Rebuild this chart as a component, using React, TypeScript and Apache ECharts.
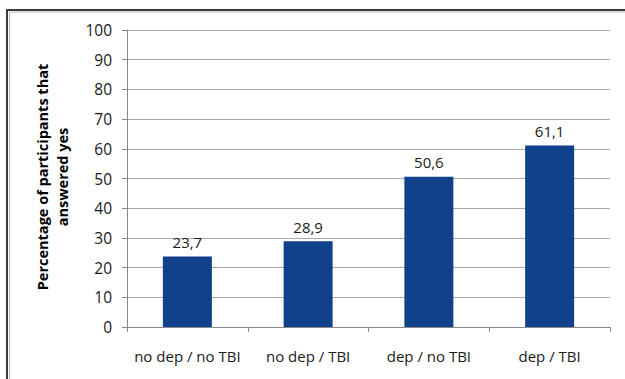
import React, { useEffect, useRef } from "react";
import * as echarts from "echarts";

const categories = ["no dep / no TBI", "no dep / TBI", "dep / no TBI", "dep / TBI"];
const percentYes = [23.7, 28.9, 50.6, 61.1];
const yAxisTitle = "Percentage of participants that\nanswered yes";

const FONT = "'Open Sans', 'Noto Sans', sans-serif";

export default function App() {
  const ref = useRef<HTMLDivElement>(null);

  useEffect(() => {
    if (!ref.current) return;
    const chart = echarts.init(ref.current, null, { renderer: "svg" });
    chart.setOption({
      animation: false,
      backgroundColor: "#ffffff",
      grid: { left: 127, right: 15, top: 30, bottom: 52, containLabel: false },
      graphic: [
        {
          type: "polyline",
          shape: { points: [[7, 379], [7, 10], [625, 10]] },
          style: { stroke: "#3a3a3a", lineWidth: 2, fill: "none" },
          silent: true,
        },
        {
          type: "polyline",
          shape: { points: [[9.5, 379], [9.5, 12], [625, 12]] },
          style: { stroke: "#b8b8b8", lineWidth: 1, fill: "none" },
          silent: true,
        },
        {
          type: "text",
          x: 52,
          y: 177,
          rotation: Math.PI / 2,
          style: {
            text: yAxisTitle,
            font: `bold 14.5px ${FONT}`,
            fill: "#000000",
            align: "center",
            verticalAlign: "middle",
            lineHeight: 20,
          },
          silent: true,
        },
      ],
      xAxis: {
        type: "category",
        data: categories,
        boundaryGap: true,
        axisLine: { show: true, lineStyle: { color: "#8a8a8a", width: 1 } },
        axisTick: { show: true, length: 5, alignWithLabel: false, interval: 0, lineStyle: { color: "#8a8a8a" } },
        axisLabel: { interval: 0, color: "#1a1a1a", fontFamily: FONT, fontSize: 15, margin: 21 },
      },
      yAxis: {
        type: "value",
        min: 0,
        max: 100,
        interval: 10,
        axisLine: { show: true, lineStyle: { color: "#8a8a8a", width: 1 } },
        axisTick: { show: true, length: 5, lineStyle: { color: "#8a8a8a" } },
        axisLabel: { color: "#1a1a1a", fontFamily: FONT, fontSize: 15.5, margin: 15 },
        splitLine: { show: true, lineStyle: { color: "#a8a8a8", width: 1 } },
      },
      series: [
        {
          type: "bar",
          data: percentYes,
          barWidth: 49,
          itemStyle: { color: "#10418a" },
          label: {
            show: true,
            position: "top",
            distance: 7,
            color: "#1a1a1a",
            fontFamily: FONT,
            fontSize: 15,
            formatter: (p: any) => String(p.value).replace(".", ","),
          },
        },
      ],
    });
    return () => chart.dispose();
  }, []);

  return <div ref={ref} style={{ width: 625, height: 379, position: "absolute", left: 0, top: 0 }} />;
}
